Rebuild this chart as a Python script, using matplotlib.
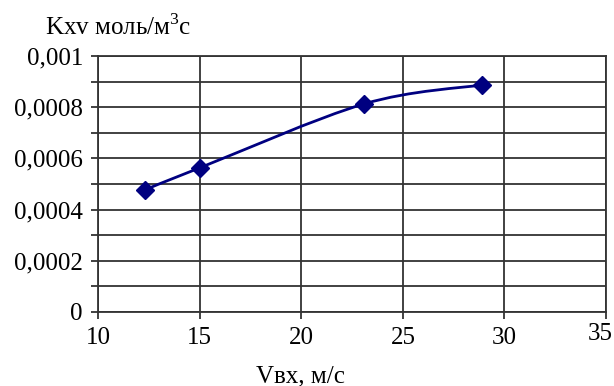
import numpy as np
import matplotlib.pyplot as plt
import matplotlib.transforms as mtransforms
from matplotlib.path import Path
from matplotlib.patches import PathPatch
from matplotlib.ticker import MultipleLocator, FuncFormatter

# data
v_in = [12.3, 15.0, 23.1, 28.9]
k_xv = [0.000477, 0.000563, 0.000813, 0.000887]

x_ticks = [10, 15, 20, 25, 30, 35]
y_label = "Kxv моль/м$^3$с"
x_label = "Vвх, м/с"

plt.rcParams['font.family'] = ['Liberation Serif', 'DejaVu Serif']
plt.rcParams['mathtext.fontset'] = 'custom'
plt.rcParams['mathtext.rm'] = 'Liberation Serif'

fig = plt.figure(figsize=(6.14, 3.86), dpi=100)
ax = fig.add_axes([0.160, 0.192, 0.827, 0.663])

ax.set_xlim(10, 35)
ax.set_ylim(0, 0.001)
ax.set_xticks(x_ticks)
ax.yaxis.set_major_locator(MultipleLocator(0.0002))
ax.yaxis.set_minor_locator(MultipleLocator(0.0001))
ax.yaxis.set_major_formatter(FuncFormatter(
    lambda v, p: "0" if abs(v) < 1e-12 else f"{v:.4f}".rstrip("0").replace(".", ",")))

ax.grid(which="major", axis="both", color="#333333", lw=1.3)
ax.grid(which="minor", axis="y", color="#333333", lw=1.3)
ax.set_axisbelow(True)
for s in ax.spines.values():
    s.set_color("#333333")
    s.set_linewidth(1.3)

ax.tick_params(which="both", axis="y", direction="out", length=5, width=1.3,
               color="#333333", labelsize=18, pad=6)
ax.tick_params(which="major", axis="x", direction="out", length=5, width=1.3,
               color="#333333", labelsize=18, pad=6)

# last x label sits against the right edge, nudged so it stays on the canvas
last = ax.get_xticklabels()[-1]
last.set_ha("right")
last.set_transform(last.get_transform() +
                   mtransforms.ScaledTranslation(7 / 100, 4 / 100, fig.dpi_scale_trans))

# smoothed line like a spreadsheet "smooth" series (catmull-rom -> bezier)
pts = np.column_stack([v_in, k_xv])
verts = [pts[0]]
codes = [Path.MOVETO]
for i in range(len(pts) - 1):
    p0 = pts[i - 1] if i > 0 else pts[i]
    p1, p2 = pts[i], pts[i + 1]
    p3 = pts[i + 2] if i + 2 < len(pts) else pts[i + 1]
    c1 = p1 + (p2 - p0) / 6
    c2 = p2 - (p3 - p1) / 6
    verts += [c1, c2, p2]
    codes += [Path.CURVE4] * 3
ax.add_patch(PathPatch(Path(verts, codes), fill=False, ec="#000080", lw=2, zorder=3))
ax.plot(v_in, k_xv, ls="none", marker="D", ms=9, color="#000080", zorder=4)

fig.text(0.073, 0.93, y_label, fontsize=18, ha="left", va="center")
fig.text(0.49, 0.025, x_label, fontsize=18, ha="center", va="center")

fig.savefig("out.png", dpi=100)
